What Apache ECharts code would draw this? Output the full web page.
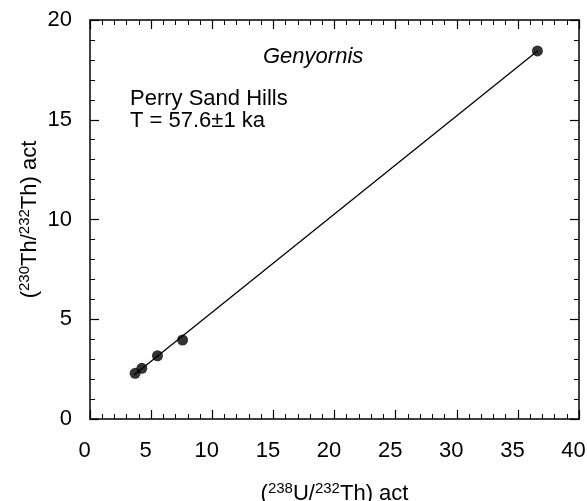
<!DOCTYPE html>
<html>
<head>
<meta charset="utf-8">
<script src="https://cdn.jsdelivr.net/npm/echarts@6/dist/echarts.min.js"></script>
<style>
  html, body { margin: 0; padding: 0; background: #fff; }
  #chart { width: 587px; height: 501px; }
</style>
</head>
<body>
<div id="chart"></div>
<script>
// measured points (238U/232Th, 230Th/232Th)
var uTh = [3.69, 4.24, 5.52, 7.57, 36.6];
var thTh = [2.29, 2.54, 3.17, 3.96, 18.45];
// isochron line end points
var fitX = [3.6, 36.6];
var fitY = [2.2, 18.45];
var xTicks = [0, 5, 10, 15, 20, 25, 30, 35, 40];
var yTicks = [0, 5, 10, 15, 20];

var FONT = 'Liberation Sans';

function pairs(xs, ys) {
    return xs.map(function (x, i) { return [x, ys[i]]; });
}

function nameStyle() {
    return {
        color: '#000', fontFamily: FONT, fontSize: 22,
        rich: {s: {fontSize: 15, verticalAlign: 'top', fontFamily: FONT, color: '#000', padding: [0, 0, 10, 0]}}
    };
}

// fresh objects for every axis, echarts does not like shared ones
function baseAxis(min, max, pos, labels) {
    return {
        type: 'value',
        position: pos,
        min: min,
        max: max,
        interval: 5,
        nameMoveOverlap: false,
        axisLine: {show: true, onZero: false, lineStyle: {color: '#000', width: 1.5}},
        axisTick: {show: true, inside: true, length: 9, lineStyle: {color: '#000', width: 1.2}},
        minorTick: {show: true, splitNumber: 5, length: 5, lineStyle: {color: '#000', width: 1}},
        splitLine: {show: false},
        axisLabel: {
            show: labels,
            color: '#000',
            fontFamily: FONT,
            fontSize: 22
        }
    };
}

var xBottom = baseAxis(xTicks[0], xTicks[xTicks.length - 1], 'bottom', true);
xBottom.axisLabel.margin = 21;
xBottom.axisLabel.padding = [0, 11, 0, 0];
xBottom.name = '({s|238}U/{s|232}Th) act';
xBottom.nameLocation = 'middle';
xBottom.nameGap = 62;
xBottom.nameTextStyle = nameStyle();
var xTop = baseAxis(xTicks[0], xTicks[xTicks.length - 1], 'top', false);

var yLeft = baseAxis(yTicks[0], yTicks[yTicks.length - 1], 'left', true);
yLeft.axisLabel.margin = 18;
yLeft.name = '({s|230}Th/{s|232}Th) act';
yLeft.nameLocation = 'middle';
yLeft.nameGap = 48;
yLeft.nameTextStyle = nameStyle();
var yRight = baseAxis(yTicks[0], yTicks[yTicks.length - 1], 'right', false);

var myChart = echarts.init(document.getElementById('chart'));
var option = {
    backgroundColor: '#fff',
    animation: false,
    grid: {left: 90, right: 8, top: 20, bottom: 82, outerBoundsMode: 'none', containLabel: false},
    xAxis: [xBottom, xTop],
    yAxis: [yLeft, yRight],
    graphic: [
        {
            type: 'text', left: 263, top: 46,
            style: {text: 'Genyornis', fontFamily: FONT, fontSize: 22, fontStyle: 'italic', fill: '#000'}
        },
        {
            type: 'text', left: 130, top: 88,
            style: {text: 'Perry Sand Hills\nT = 57.6±1 ka', fontFamily: FONT, fontSize: 22, lineHeight: 22, fill: '#000'}
        }
    ],
    series: [
        {
            type: 'line',
            data: pairs(fitX, fitY),
            showSymbol: false,
            lineStyle: {color: '#000', width: 1.3},
            silent: true
        },
        {
            type: 'scatter',
            data: pairs(uTh, thTh),
            symbol: 'circle',
            symbolSize: 11,
            itemStyle: {color: '#000'}
        }
    ]
};
myChart.setOption(option);
</script>
</body>
</html>
